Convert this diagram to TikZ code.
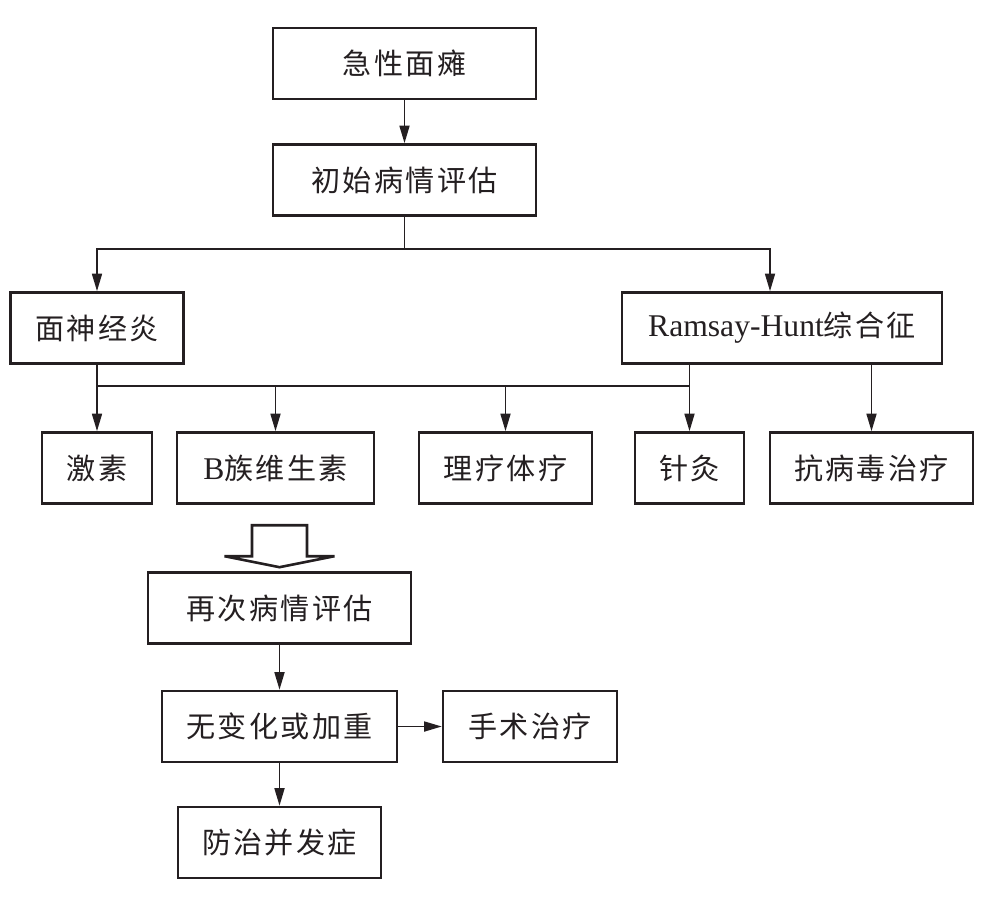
\documentclass[tikz,border=0pt]{standalone}
\usepackage{fontspec}
\setmainfont{Liberation Serif}
\newfontfamily\cjk[Scale=0.92,LetterSpace=8]{Noto Sans CJK SC}
\usetikzlibrary{arrows.meta}
\definecolor{ink}{rgb}{0.14, 0.12, 0.13}
\tikzset{box/.style = {draw = ink, line width = 1.5pt, minimum height = 1.42cm, inner sep = 0, text = ink, font = \fontsize{18pt}{20pt}\selectfont\cjk}}
\tikzset{link/.style = {draw = ink, line width = 0.95pt, -{Triangle[length = 10pt, width = 5.7pt]}}}
\tikzset{bus/.style = {draw = ink, line width = 0.75pt}}
\tikzset{hollow/.style = {draw = ink, line width = 1.5pt, line join = miter}}

\begin{document}
\begin{tikzpicture}[x = 0.02cm, y = -0.02cm]
      \useasboundingbox (0, 0) rectangle (984, 904);

      \node [box, minimum width = 5.26cm] (onset) at (404.5, 63.5) {急性面瘫};
      \node [box, minimum width = 5.26cm] (first) at (404.5, 180) {初始病情评估};
      \node [box, minimum width = 3.46cm] (neuritis) at (97, 328) {面神经炎};
      \node [box, minimum width = 6.4cm] (ramsay) at (782, 328) {{\rmfamily Ramsay-Hunt}综合征};

      \node [box, minimum width = 2.2cm] (hormone) at (97, 468) {激素};
      \node [box, minimum width = 3.94cm] (vitb) at (275.5, 468) {{\rmfamily B}族维生素};
      \node [box, minimum width = 3.46cm] (physio) at (505.5, 468) {理疗体疗};
      \node [box, minimum width = 2.18cm] (acup) at (689.5, 468) {针灸};
      \node [box, minimum width = 4.06cm] (antiviral) at (871.5, 468) {抗病毒治疗};

      \node [box, minimum width = 5.26cm] (again) at (279.5, 608) {再次病情评估};
      \node [box, minimum width = 4.7cm] (worse) at (279.5, 726.5) {无变化或加重};
      \node [box, minimum width = 3.48cm] (surgery) at (530, 726.5) {手术治疗};
      \node [box, minimum width = 4.06cm] (prevent) at (279.5, 842.5) {防治并发症};

      \draw [link] (onset) -- (first);
      \coordinate (fork) at (404.5, 249);
      \draw [link] (first) -- (fork) -| (neuritis);
      \draw [link] (fork) -| ([xshift = -0.24cm]ramsay.north);

      \coordinate (busl) at (97, 386);
      \coordinate (busr) at (689.5, 386);
      \draw [link] (neuritis) -- (hormone);
      \draw [bus] (busl) -- (busr);
      \draw [link] (busl -| vitb) -- (vitb);
      \draw [link] (busl -| physio) -- (physio);
      \draw [link] (ramsay.south -| acup) -- (acup);
      \draw [link] (ramsay.south -| antiviral) -- (antiviral);

      % hollow arrow
      \draw [hollow] (again.north) ++(-27.5, -46) -- ++(55, 0) -- ++(0, 31) -- ++(27.5, 0)
        -- ++(-55, 11) -- ++(-55, -11) -- ++(27.5, 0) -- cycle;

      \draw [link] (again) -- (worse);
      \draw [link] (worse) -- (prevent);
      \draw [link] (worse) -- (surgery);
    \end{tikzpicture}
\end{document}
